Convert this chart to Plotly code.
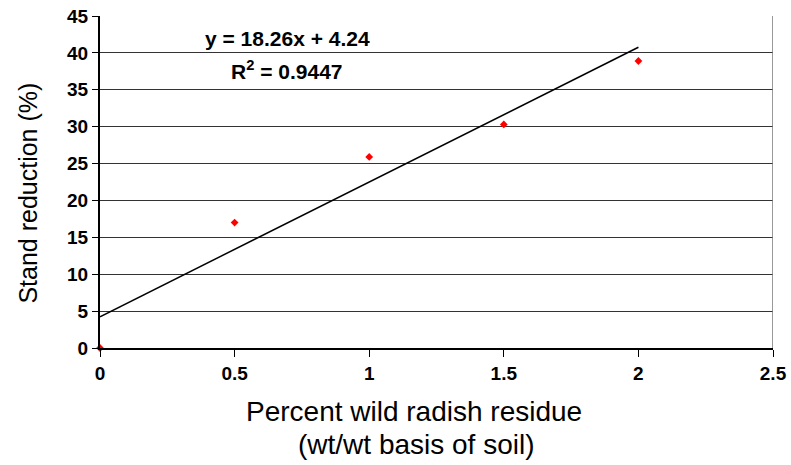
import plotly.graph_objects as go

residue = [0, 0.5, 1.0, 1.5, 2.0]
stand_reduction = [0, 17.0, 25.9, 30.3, 38.9]
slope = 18.26
intercept = 4.24
r2 = 0.9447
trend_x = [0, 2.0]
trend_y = [intercept + slope * v for v in trend_x]
x_title_lines = ["Percent wild radish residue", "(wt/wt basis of soil)"]
y_title = "Stand reduction (%)"

FONT = "Arial, Liberation Sans"

fig = go.Figure()
fig.add_trace(go.Scatter(x=trend_x, y=trend_y, mode="lines",
                         line=dict(color="black", width=1.5), showlegend=False))
fig.add_trace(go.Scatter(x=residue, y=stand_reduction, mode="markers",
                         marker=dict(symbol="diamond", size=6, color="red"),
                         showlegend=False, cliponaxis=False))

fig.add_annotation(x=0.695, y=41.9, xref="x", yref="y", text="<b>y = %.2fx + %.2f</b>" % (slope, intercept),
                   showarrow=False, font=dict(family=FONT, size=21, color="black"))
fig.add_annotation(x=0.695, y=37.7, xref="x", yref="y", text="<b>R<sup>2</sup> = %.4f</b>" % r2,
                   showarrow=False, font=dict(family=FONT, size=21, color="black"))

# axis titles
fig.add_annotation(x=-0.107, y=0.468, xref="paper", yref="paper", text=y_title, textangle=-90,
                   showarrow=False, xanchor="center", yanchor="middle",
                   font=dict(family=FONT, size=25, color="black"))
fig.add_annotation(x=0.467, y=-0.192, xref="paper", yref="paper", text=x_title_lines[0],
                   showarrow=False, xanchor="center", yanchor="middle",
                   font=dict(family=FONT, size=28, color="black"))
fig.add_annotation(x=0.470, y=-0.29, xref="paper", yref="paper", text=x_title_lines[1],
                   showarrow=False, xanchor="center", yanchor="middle",
                   font=dict(family=FONT, size=28, color="black"))

fig.update_layout(
    width=791, height=465,
    margin=dict(l=100, r=18, t=16, b=117),
    paper_bgcolor="white", plot_bgcolor="white",
    font=dict(family=FONT, color="black"),
    xaxis=dict(range=[0, 2.5], tickvals=[0, 0.5, 1, 1.5, 2, 2.5],
               ticktext=["<b>0</b>", "<b>0.5</b>", "<b>1</b>", "<b>1.5</b>", "<b>2</b>", "<b>2.5</b>"],
               ticks="outside", ticklen=7, tickcolor="black", tickwidth=1,
               showline=True, linecolor="black", linewidth=2, mirror=False,
               showgrid=False, zeroline=False, tickfont=dict(size=19), automargin=False),
    yaxis=dict(range=[0, 45], tickvals=list(range(0, 46, 5)),
               ticktext=["<b>%d</b>" % v for v in range(0, 46, 5)],
               ticks="outside", ticklen=6, tickcolor="black", tickwidth=1,
               showline=True, linecolor="black", linewidth=2,
               showgrid=True, gridcolor="#333333", gridwidth=1, zeroline=False,
               tickfont=dict(size=19), automargin=False),
)
fig.add_shape(type="line", xref="x", yref="paper", x0=2.5, x1=2.5, y0=0, y1=1,
              line=dict(color="#777777", width=1.5))
fig.write_html("out.html", config={"displayModeBar": False},
               post_script="document.body.style.margin='0';document.body.style.overflow='hidden';")
